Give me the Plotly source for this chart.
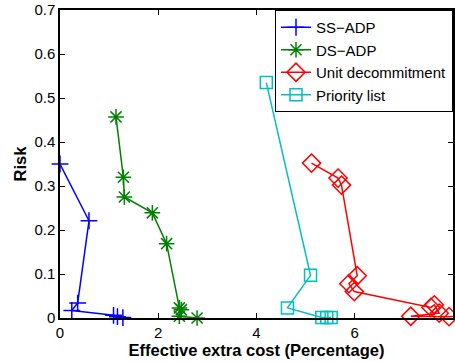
import plotly.graph_objects as go

ss_x = [0.0, 0.59, 0.36, 0.24, 1.09, 1.17, 1.28]
ss_y = [0.350, 0.221, 0.034, 0.017, 0.006, 0.003, 0.001]

ds_x = [1.14, 1.29, 1.31, 1.88, 2.17, 2.43, 2.47, 2.43, 2.79]
ds_y = [0.457, 0.320, 0.275, 0.239, 0.169, 0.023, 0.019, 0.004, 0.0]

ud_x = [5.12, 5.66, 5.73, 6.05, 5.88, 5.99, 7.55, 7.62, 7.72, 7.14, 7.92, 8.06]
ud_y = [0.352, 0.318, 0.302, 0.096, 0.078, 0.060, 0.024, 0.030, 0.011, 0.004, 0.003, 0.004]

pl_x = [4.20, 5.10, 4.63, 5.33, 5.43, 5.52]
pl_y = [0.535, 0.097, 0.023, 0.001, 0.001, 0.001]

x_ticks = [0, 2, 4, 6, 8]
y_ticks = [0, 0.1, 0.2, 0.3, 0.4, 0.5, 0.6, 0.7]
y_tick_labels = ["0", "0.1", "0.2", "0.3", "0.4", "0.5", "0.6", "0.7"]

series = [
    ("SS\u2212ADP", ss_x, ss_y, "#0000FF", "cross-thin-open", 12),
    ("DS\u2212ADP", ds_x, ds_y, "#008000", "asterisk-open", 13),
    ("Unit decommitment", ud_x, ud_y, "#FF0000", "diamond-open", 14),
    ("Priority list", pl_x, pl_y, "#00BFBF", "square-open", 12),
]

fig = go.Figure()
for name, xs, ys, col, sym, sz in series:
    fig.add_trace(go.Scatter(
        x=xs, y=ys, name=name, mode="lines+markers",
        line=dict(color=col, width=1.5),
        marker=dict(symbol=sym, size=sz, color=col, line=dict(color=col, width=1.5)),
        cliponaxis=False,
    ))

font_family = "Liberation Sans, Arial, sans-serif"
fig.update_layout(
    width=455, height=362,
    margin=dict(l=60, r=2, t=10, b=44, autoexpand=False),
    paper_bgcolor="white", plot_bgcolor="white",
    font=dict(family=font_family, size=15, color="black"),
    showlegend=True,
    legend=dict(
        x=1, y=1, xanchor="right", yanchor="top",
        bgcolor="white", bordercolor="black", borderwidth=1,
        font=dict(size=15, color="black"),
        tracegroupgap=0, itemwidth=30,
    ),
)
fig.update_xaxes(
    range=[0, 8], tickvals=x_ticks, ticktext=[str(v) for v in x_ticks],
    ticks="inside", ticklen=5, tickcolor="black",
    showline=True, linecolor="black", linewidth=1.5, mirror="ticks",
    showgrid=False, zeroline=False, automargin=False,
    title=dict(text="<b>Effective extra cost (Percentage)</b>", font=dict(size=16.5), standoff=0),
)
fig.update_yaxes(
    range=[0, 0.7], tickvals=y_ticks, ticktext=y_tick_labels,
    ticks="inside", ticklen=5, tickcolor="black",
    showline=True, linecolor="black", linewidth=1.5, mirror="ticks",
    showgrid=False, zeroline=False, automargin=False,
    title=dict(text="<b>Risk</b>", font=dict(size=16.5), standoff=4),
)

fig.write_html(
    "out.html",
    config={"displayModeBar": False},
    post_script="document.body.style.margin='0';document.body.style.padding='0';",
)
